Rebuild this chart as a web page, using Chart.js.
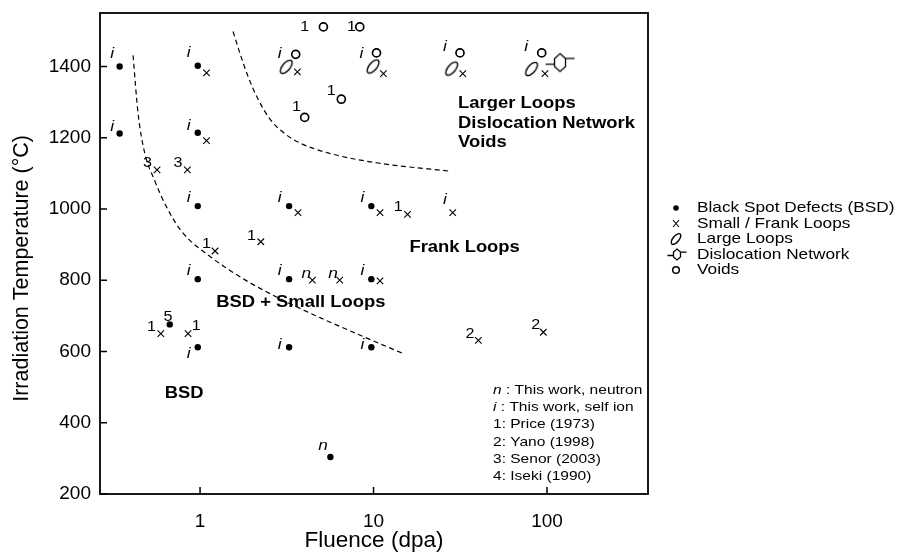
<!DOCTYPE html>
<html>
<head>
<meta charset="utf-8">
<script src="https://cdn.jsdelivr.net/npm/chart.js@4.4.0/dist/chart.umd.min.js"></script>
<style>
  html, body { margin: 0; padding: 0; background: #fff; }
  #wrap { width: 905px; height: 554px; }
</style>
</head>
<body>
<div id="wrap"><canvas id="chart"></canvas></div>
<script>
// Axis ticks
const fluenceTicks = [1, 10, 100];
const tempTicks = [200, 400, 600, 800, 1000, 1200, 1400];

// Observations [fluence (dpa), temperature (C)]
const bsdPoints = [
  [0.344, 1400], [0.97, 1402], [0.344, 1212], [0.97, 1214],
  [0.97, 1008], [3.26, 1008], [9.71, 1008],
  [0.97, 803], [3.26, 803], [9.71, 803],
  [0.669, 676], [0.97, 612], [3.26, 612], [9.71, 612],
  [5.64, 304]
];
const loopPoints = [
  [1.09, 1382], [1.09, 1192], [0.565, 1110], [0.845, 1110],
  [3.67, 990], [10.9, 990], [15.7, 985], [28.6, 990],
  [2.24, 908], [1.22, 882],
  [4.44, 800], [6.38, 800], [10.9, 798],
  [0.594, 650], [0.853, 650], [40.2, 631], [95.2, 654],
  [3.64, 1385], [11.4, 1380], [32.7, 1380], [97.3, 1380]
];
const largeLoopPoints = [[3.14, 1399], [9.94, 1400], [28.2, 1394], [81.4, 1393]];
const networkPoints = [[118.8, 1411]];
const voidPoints = [
  [3.56, 1434], [10.4, 1438], [31.5, 1438], [93.2, 1438],
  [5.14, 1511], [8.33, 1511], [6.52, 1308], [4.01, 1257]
];

// Regime boundaries (dashed)
const boundaryLow = [
  [0.411, 1431], [0.439, 1269], [0.48, 1157], [0.548, 1079], [0.628, 1014],
  [0.78, 938], [1.162, 864], [1.817, 801], [2.891, 748], [4.915, 695], [8.9, 640], [14.85, 594]
];
const boundaryHigh = [
  [1.55, 1498], [1.70, 1436], [1.89, 1372], [2.16, 1308], [2.53, 1252],
  [3.05, 1213], [3.77, 1185], [5.69, 1155], [10.6, 1129], [27.6, 1106]
];

// Source markers next to the symbols
const ionLabels = [
  [0.311, 1436], [0.861, 1438], [0.311, 1231], [0.861, 1233],
  [2.88, 1436], [8.51, 1436], [25.8, 1455], [75.7, 1455],
  [0.861, 1032], [2.88, 1032], [8.62, 1032], [25.8, 1027],
  [0.861, 827], [2.88, 827], [8.62, 827],
  [0.861, 594], [2.88, 620], [8.62, 620]
];
const neutronLabels = [[4.10, 819], [5.84, 817], [5.12, 334]];
const refLabels = [
  ['1', 4.01, 1511], ['1', 7.45, 1511], ['1', 5.71, 1332], ['1', 3.59, 1285],
  ['3', 0.497, 1129], ['3', 0.747, 1129],
  ['1', 1.98, 924], ['1', 1.09, 901], ['1', 13.9, 1004],
  ['1', 0.524, 668], ['5', 0.654, 696], ['1', 0.952, 670],
  ['2', 36.0, 648], ['2', 86.1, 673]
];
const regionLabels = [
  ['Larger Loops', 30.7, 1297],
  ['Dislocation Network', 30.7, 1241],
  ['Voids', 30.7, 1185],
  ['Frank Loops', 16.1, 892],
  ['BSD + Small Loops', 1.24, 738],
  ['BSD', 0.626, 483]
];
const citeLines = [
  ['n', ' : This work, neutron'],
  ['i', ' : This work, self ion'],
  ['', '1: Price (1973)'],
  ['', '2: Yano (1998)'],
  ['', '3: Senor (2003)'],
  ['', '4: Iseki (1990)']
];
const legendNames = ['Black Spot Defects (BSD)', 'Small / Frank Loops', 'Large Loops', 'Dislocation Network', 'Voids'];

const FONT = "'Liberation Sans', Arial, Helvetica, sans-serif";
const SX = 1.15; // the original lettering is a bit wide

const toXY = arr => arr.map(p => ({ x: p[0], y: p[1] }));

// symbol painters
function drawX(g, cx, cy, hw, hh, lw) {
  g.save();
  g.strokeStyle = '#000';
  g.lineWidth = lw || 1.2;
  g.beginPath();
  g.moveTo(cx - hw, cy - hh); g.lineTo(cx + hw, cy + hh);
  g.moveTo(cx + hw, cy - hh); g.lineTo(cx - hw, cy + hh);
  g.stroke();
  g.restore();
}
function drawEllipse(g, cx, cy, a, b) {
  g.save();
  g.strokeStyle = '#000';
  g.lineWidth = 1.4;
  g.beginPath();
  g.ellipse(cx, cy, a, b, -50 * Math.PI / 180, 0, Math.PI * 2);
  g.stroke();
  g.restore();
}
function drawNetwork(g, cx, cy, w, h, arm) {
  const k = h * 0.45;
  g.save();
  g.strokeStyle = '#000';
  g.lineWidth = 1.3;
  g.beginPath();
  g.moveTo(cx, cy - h);
  g.lineTo(cx + w, cy - k);
  g.lineTo(cx + w, cy + k);
  g.lineTo(cx, cy + h);
  g.lineTo(cx - w, cy + k);
  g.lineTo(cx - w, cy - k);
  g.closePath();
  g.moveTo(cx - w - arm, cy + k * 0.4); g.lineTo(cx - w, cy + k * 0.4);
  g.moveTo(cx + w, cy - k); g.lineTo(cx + w + arm, cy - k);
  g.stroke();
  g.restore();
}
function makeMark(w, h, paint) {
  const c = document.createElement('canvas');
  c.width = w; c.height = h;
  paint(c.getContext('2d'), w / 2, h / 2);
  return c;
}
const ellipseMark = makeMark(22, 22, (g, cx, cy) => drawEllipse(g, cx, cy, 8, 3.8));
const netMark = makeMark(38, 24, (g, cx, cy) => drawNetwork(g, cx, cy, 5.5, 9, 9));

function stretchText(ctx, text, x, y, font, align) {
  ctx.save();
  ctx.font = font;
  ctx.fillStyle = '#000';
  ctx.textBaseline = 'middle';
  ctx.textAlign = align || 'center';
  ctx.translate(x, y);
  ctx.scale(SX, 1);
  ctx.fillText(text, 0, 0);
  ctx.restore();
}

// frame with inward ticks
const framePlugin = {
  id: 'frame',
  afterDraw(chart) {
    const { ctx, chartArea: a, scales } = chart;
    ctx.save();
    ctx.strokeStyle = '#000';
    ctx.lineWidth = 1.8;
    ctx.strokeRect(a.left, a.top, a.right - a.left, a.bottom - a.top);
    ctx.lineWidth = 1.5;
    ctx.beginPath();
    scales.x.ticks.forEach(t => {
      const px = scales.x.getPixelForValue(t.value);
      ctx.moveTo(px, a.bottom); ctx.lineTo(px, a.bottom - 7);
    });
    scales.y.ticks.forEach(t => {
      const py = scales.y.getPixelForValue(t.value);
      ctx.moveTo(a.left, py); ctx.lineTo(a.left + 7, py);
    });
    ctx.stroke();
    ctx.restore();
  }
};

// annotations, citation box and symbol legend
const notesPlugin = {
  id: 'notes',
  afterDatasetsDraw(chart) {
    const { ctx, chartArea: a, scales: { x, y } } = chart;
    ionLabels.forEach(p => stretchText(ctx, 'i', x.getPixelForValue(p[0]), y.getPixelForValue(p[1]), 'italic 15px ' + FONT));
    neutronLabels.forEach(p => stretchText(ctx, 'n', x.getPixelForValue(p[0]), y.getPixelForValue(p[1]), 'italic 15px ' + FONT));
    refLabels.forEach(p => stretchText(ctx, p[0], x.getPixelForValue(p[1]), y.getPixelForValue(p[2]), '14px ' + FONT));
    regionLabels.forEach(p => stretchText(ctx, p[0], x.getPixelForValue(p[1]), y.getPixelForValue(p[2]), 'bold 16px ' + FONT, 'left'));

    // citation list
    const cx = a.right - 155;
    citeLines.forEach((line, i) => {
      const cy = a.bottom - 104 + i * 17.3;
      let off = 0;
      if (line[0]) {
        ctx.font = 'italic 13.5px ' + FONT;
        stretchText(ctx, line[0], cx, cy, 'italic 13.5px ' + FONT, 'left');
        off = ctx.measureText(line[0]).width * SX;
      }
      stretchText(ctx, line[1], cx + off, cy, '13.5px ' + FONT, 'left');
    });

    // symbol legend
    const sx = a.right + 28, tx = a.right + 49;
    legendNames.forEach((name, i) => {
      const ly = a.top + 195 + i * 15.5;
      if (i === 0) {
        ctx.beginPath(); ctx.fillStyle = '#000'; ctx.arc(sx, ly, 2.8, 0, Math.PI * 2); ctx.fill();
      } else if (i === 1) {
        drawX(ctx, sx, ly, 3, 3.5, 1.1);
      } else if (i === 2) {
        drawEllipse(ctx, sx, ly, 6.5, 3);
      } else if (i === 3) {
        drawNetwork(ctx, sx + 1, ly, 3.5, 5.5, 6);
      } else {
        ctx.beginPath(); ctx.strokeStyle = '#000'; ctx.lineWidth = 1.5; ctx.fillStyle = '#fff';
        ctx.arc(sx, ly, 3.3, 0, Math.PI * 2); ctx.fill(); ctx.stroke();
      }
      stretchText(ctx, name, tx, ly, '15px ' + FONT, 'left');
    });
  }
};

const tickFont = { family: FONT, size: 19 };
const noPad = s => { s.paddingTop = 0; s.paddingBottom = 0; s.paddingLeft = 0; s.paddingRight = 0; };

new Chart(document.getElementById('chart'), {
  type: 'scatter',
  data: {
    datasets: [
      { label: 'boundaryLow', data: toXY(boundaryLow), showLine: true, pointRadius: 0, borderColor: '#000', borderWidth: 1.2, borderDash: [5, 3.5], cubicInterpolationMode: 'monotone', fill: false },
      { label: 'boundaryHigh', data: toXY(boundaryHigh), showLine: true, pointRadius: 0, borderColor: '#000', borderWidth: 1.2, borderDash: [5, 3.5], cubicInterpolationMode: 'monotone', fill: false },
      { label: legendNames[0], data: toXY(bsdPoints), pointStyle: 'circle', pointRadius: 3.2, backgroundColor: '#000', borderColor: '#000', borderWidth: 0 },
      { label: legendNames[1], data: toXY(loopPoints), pointStyle: 'crossRot', pointRadius: 4.6, borderColor: '#000', borderWidth: 1.1 },
      { label: legendNames[2], data: toXY(largeLoopPoints), pointStyle: ellipseMark, pointRadius: 6 },
      { label: legendNames[3], data: toXY(networkPoints), pointStyle: netMark, pointRadius: 6 },
      { label: legendNames[4], data: toXY(voidPoints), pointStyle: 'circle', pointRadius: 4, backgroundColor: '#fff', borderColor: '#000', borderWidth: 1.7 }
    ]
  },
  options: {
    responsive: true,
    maintainAspectRatio: false,
    animation: false,
    devicePixelRatio: 1,
    layout: { padding: { left: 0, top: 13, right: 257, bottom: 0 } },
    plugins: { legend: { display: false }, tooltip: { enabled: false } },
    scales: {
      x: {
        type: 'logarithmic',
        min: 0.265,
        max: 382,
        afterBuildTicks: s => { s.ticks = fluenceTicks.map(v => ({ value: v })); },
        afterFit: s => { s.height = 60; noPad(s); },
        grid: { display: false, drawTicks: false },
        border: { display: false },
        ticks: { callback: v => String(v), font: tickFont, color: '#000', padding: 16, maxRotation: 0, autoSkip: false },
        title: { display: true, text: 'Fluence (dpa)', color: '#000', font: { family: FONT, size: 22.5 }, padding: { top: 0, bottom: 0 } }
      },
      y: {
        type: 'linear',
        min: 200,
        max: 1550,
        afterBuildTicks: s => { s.ticks = tempTicks.map(v => ({ value: v })); },
        afterFit: s => { s.width = 100; noPad(s); },
        grid: { display: false, drawTicks: false },
        border: { display: false },
        ticks: { callback: v => String(v), font: tickFont, color: '#000', padding: 9, autoSkip: false },
        // trailing spaces nudge the title a little down, as in the original
        title: { display: true, text: 'Irradiation Temperature (°C)\u00a0\u00a0\u00a0\u00a0\u00a0', color: '#000', font: { family: FONT, size: 21.5 }, padding: { top: 9, bottom: 0 } }
      }
    }
  },
  plugins: [framePlugin, notesPlugin]
});
</script>
</body>
</html>
